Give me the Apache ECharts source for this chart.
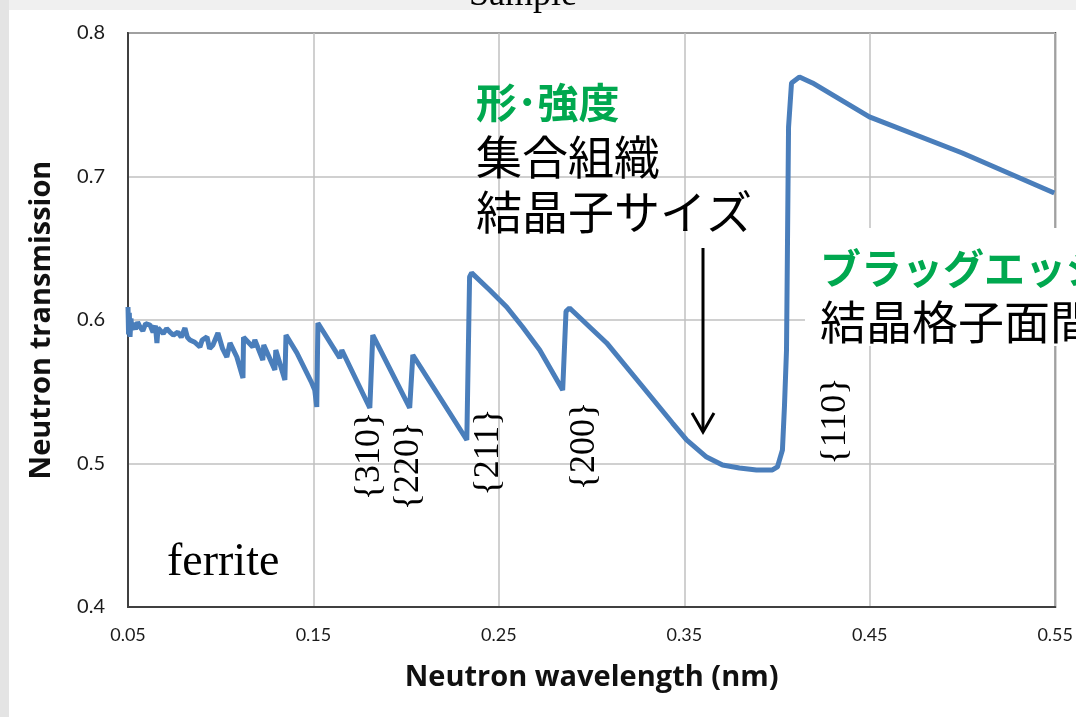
<!DOCTYPE html>
<html>
<head>
<meta charset="utf-8">
<script src="https://cdn.jsdelivr.net/npm/echarts@6/dist/echarts.min.js"></script>
<style>
html,body{margin:0;padding:0;background:#fff;}
#chart{width:1076px;height:717px;}
</style>
</head>
<body>
<div id="chart"></div>
<script>
// Neutron wavelength (nm)
const wavelength = [
0.0500,0.0503,0.0507,0.0511,0.0516,0.0521,0.0527,0.0540,0.0552,0.0565,
0.0580,0.0595,0.0619,0.0635,0.0648,0.0656,0.0662,0.0672,0.0690,0.0708,
0.0726,0.0745,0.0769,0.0787,0.0807,0.0820,0.0834,0.0860,0.0888,0.0900,
0.0926,0.0940,0.0958,0.0985,0.1010,0.1033,0.1050,0.1087,0.1120,0.1123,
0.1173,0.1184,0.1227,0.1232,0.1292,0.1297,0.1346,0.1352,0.1411,0.1491,
0.1507,0.1518,0.1524,0.1605,0.1642,0.1653,0.1804,0.1820,0.2019,0.2036,
0.2235,0.2327,0.2342,0.2353,0.2450,0.2542,0.2628,0.2720,0.2844,0.2862,
0.2881,0.3081,0.3259,0.3436,0.3512,0.3620,0.3706,0.3797,0.3889,0.3975,
0.4002,0.4029,0.4040,0.4051,0.4056,0.4062,0.4078,0.4121,0.4191,0.4498,
0.4999,0.5495
];
// Neutron transmission
const transmission = [
0.6091,0.5900,0.6050,0.5882,0.6010,0.5930,0.5979,0.5935,0.5985,0.5951,
0.5925,0.5975,0.5965,0.5915,0.5960,0.5840,0.5945,0.5951,0.5905,0.5940,
0.5916,0.5895,0.5916,0.5880,0.5944,0.5880,0.5861,0.5845,0.5812,0.5860,
0.5882,0.5800,0.5826,0.5909,0.5800,0.5742,0.5840,0.5742,0.5596,0.5880,
0.5812,0.5861,0.5721,0.5826,0.5652,0.5791,0.5582,0.5895,0.5770,0.5561,
0.5512,0.5394,0.5979,0.5812,0.5735,0.5791,0.5387,0.5895,0.5387,0.5756,
0.5352,0.5164,0.6300,0.6328,0.6209,0.6091,0.5951,0.5791,0.5512,0.6060,
0.6084,0.5840,0.5561,0.5282,0.5164,0.5045,0.4990,0.4969,0.4955,0.4955,
0.4976,0.5094,0.5400,0.5791,0.6488,0.7345,0.7652,0.7693,0.7652,0.7415,
0.7164,0.6885
];
const xTicks = ['0.05','0.15','0.25','0.35','0.45','0.55'];
const yTicks = ['0.4','0.5','0.6','0.7','0.8'];
// Bragg edge (hkl) labels anchored in data space
const hklNames = ['{310}','{220}','{211}','{200}','{110}'];
const hklX = [0.1804,0.2014,0.2445,0.2962,0.4315];
const hklY = [0.5052,0.4983,0.5080,0.5122,0.5296];

const seriesData = wavelength.map((w,i)=>[w,transmission[i]]);
const chart = echarts.init(document.getElementById('chart'));
const green = '#00a84f';
const jp = '"Noto Sans CJK JP"';
const labelFont = 'Lato';

const option = {
  backgroundColor:'#ffffff',
  animation:false,
  grid:{left:128,right:20,top:33,bottom:110,show:true,borderColor:'#404040',borderWidth:2,backgroundColor:'#fff'},
  xAxis:{
    type:'value',min:0.05,max:0.55,interval:0.1,
    name:'Neutron wavelength (nm)',nameLocation:'middle',nameGap:56,
    nameTextStyle:{fontFamily:'Open Sans',fontWeight:'bold',fontSize:29,color:'#111'},
    axisLine:{show:true,lineStyle:{color:'#404040',width:2}},
    axisTick:{show:false},
    axisLabel:{margin:19,fontFamily:labelFont,fontSize:18,color:'#1a1a1a',
      formatter:(v)=>{const i=Math.round((v-0.05)/0.1);return xTicks[i]!==undefined?xTicks[i]:'';}},
    splitLine:{show:true,lineStyle:{color:'#c0c0c0',width:1.5}}
  },
  yAxis:{
    type:'value',min:0.4,max:0.8,interval:0.1,
    name:'Neutron transmission',nameLocation:'middle',nameGap:72,
    nameTextStyle:{fontFamily:'Open Sans',fontWeight:'bold',fontSize:29,color:'#111'},
    axisLine:{show:true,lineStyle:{color:'#404040',width:2}},
    axisTick:{show:false},
    axisLabel:{margin:23,fontFamily:labelFont,fontSize:20,color:'#1a1a1a',
      formatter:(v)=>{const i=Math.round((v-0.4)/0.1);return yTicks[i]!==undefined?yTicks[i]:'';}},
    splitLine:{show:true,lineStyle:{color:'#c0c0c0',width:1.5}}
  },
  series:[{
    type:'line',data:seriesData,showSymbol:false,
    lineStyle:{color:'#4a7ebb',width:5},z:3
  }]
};
chart.setOption(option);

const g = [];
// slide edges
g.push({type:'rect',shape:{x:0,y:0,width:1076,height:10},style:{fill:'#f0f0f0'},z:-10,silent:true});
g.push({type:'rect',shape:{x:0,y:0,width:9,height:717},style:{fill:'#e4e4e4'},z:-10,silent:true});
g.push({type:'text',x:523,y:-4,z:50,style:{text:'Sample',font:'36px "Liberation Serif"',fill:'#000',align:'center',verticalAlign:'middle'}});
// annotation texts
g.push({type:'text',x:476,y:102,z:50,style:{text:'形･強度',font:'bold 41px '+jp,fill:green,align:'left',verticalAlign:'middle'}});
g.push({type:'text',x:476,y:157,z:50,style:{text:'集合組織',font:'46px '+jp,fill:'#000',align:'left',verticalAlign:'middle'}});
g.push({type:'text',x:476,y:212,z:50,style:{text:'結晶子サイズ',font:'46px '+jp,fill:'#000',align:'left',verticalAlign:'middle'}});
// white box on right
g.push({type:'rect',shape:{x:805,y:228,width:271,height:118},style:{fill:'#fff'},z:40,silent:true});
g.push({type:'text',x:820,y:268,z:50,style:{text:'ブラッグエッジ',font:'bold 41px '+jp,fill:green,align:'left',verticalAlign:'middle'}});
g.push({type:'text',x:820,y:322,z:50,style:{text:'結晶格子面間',font:'46px '+jp,fill:'#000',align:'left',verticalAlign:'middle'}});
// arrow
g.push({type:'line',shape:{x1:703,y1:248,x2:703,y2:430},style:{stroke:'#000',lineWidth:3},z:50});
g.push({type:'polyline',shape:{points:[[692,413],[703,432],[714,413]]},style:{stroke:'#000',lineWidth:3,fill:null},z:50});
// ferrite
g.push({type:'text',x:167,y:563,z:50,style:{text:'ferrite',font:'46px "Liberation Serif"',fill:'#000',align:'left',verticalAlign:'middle'}});
// hkl labels
hklNames.forEach((t,i)=>{
  const p = chart.convertToPixel({gridIndex:0},[hklX[i],hklY[i]]);
  g.push({type:'text',x:p[0],y:p[1],rotation:Math.PI/2,z:50,
    style:{text:t,font:'36px "Liberation Serif"',fill:'#000',align:'center',verticalAlign:'middle'}});
});
chart.setOption({graphic:{elements:g}});
</script>
</body>
</html>
